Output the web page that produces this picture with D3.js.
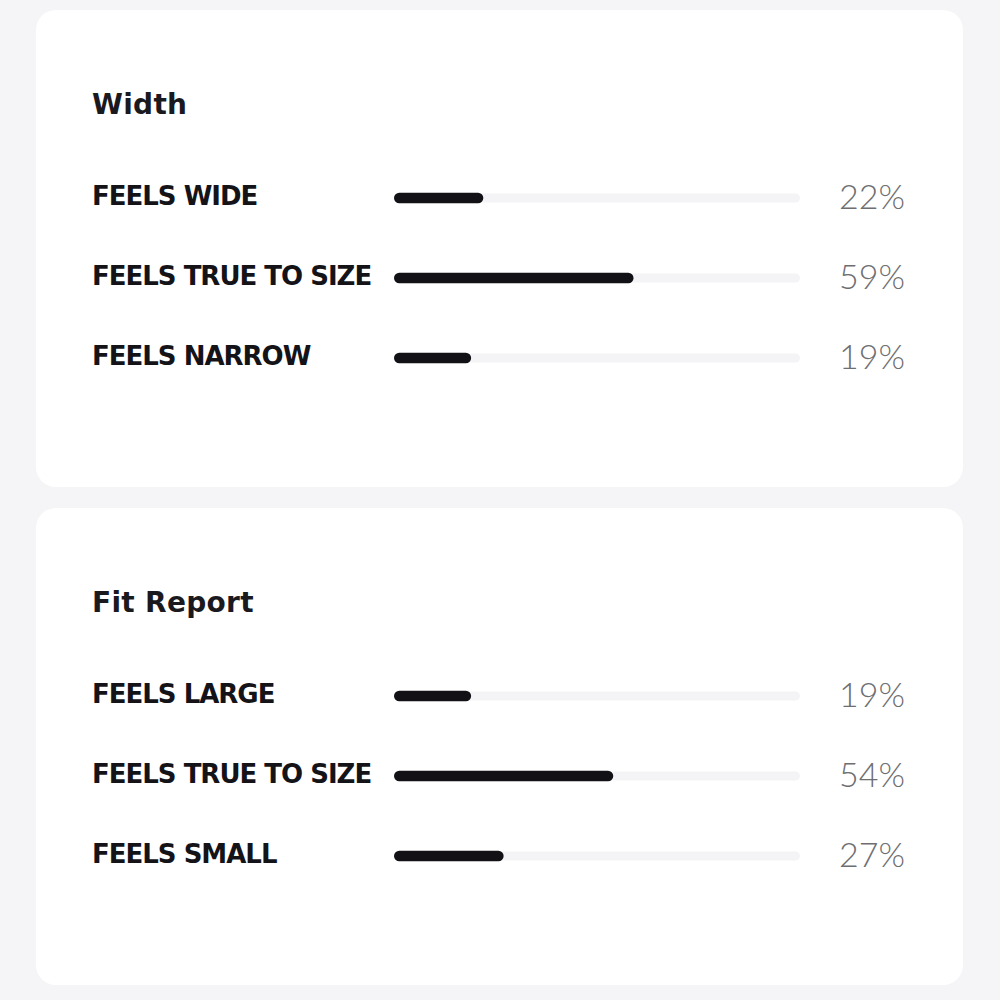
<!DOCTYPE html>
<html>
<head>
<meta charset="utf-8">
<script src="https://cdn.jsdelivr.net/npm/d3@7/dist/d3.min.js"></script>
<style>
  html, body { margin: 0; padding: 0; background: #f5f4f7; }
  svg { display: block; }
</style>
</head>
<body>
<div id="chart"></div>
<script>
// Data
const panelTitles = ["Width", "Fit Report"];
const widthCategories = ["FEELS WIDE", "FEELS TRUE TO SIZE", "FEELS NARROW"];
const widthValues = [22, 59, 19];
const fitCategories = ["FEELS LARGE", "FEELS TRUE TO SIZE", "FEELS SMALL"];
const fitValues = [19, 54, 27];

const panels = [
  { title: panelTitles[0], cats: widthCategories, vals: widthValues },
  { title: panelTitles[1], cats: fitCategories, vals: fitValues }
];

const W = 1000, H = 1000;
const svg = d3.select("#chart").append("svg").attr("width", W).attr("height", H);
svg.append("rect").attr("width", W).attr("height", H).attr("fill", "#f5f4f7");

const cardX = 36, cardW = 927, cardH = 477;
const cardYs = [10, 508];

const x = d3.scaleLinear().domain([0, 100]).range([394, 800]);

panels.forEach((p, i) => {
  const g = svg.append("g").attr("transform", `translate(0,${cardYs[i]})`);
  g.append("rect")
    .attr("x", cardX).attr("y", 0).attr("width", cardW).attr("height", cardH)
    .attr("rx", 20).attr("fill", "#ffffff");

  g.append("text")
    .attr("x", 92).attr("y", 104)
    .attr("font-family", "'DejaVu Sans', sans-serif")
    .attr("font-weight", 700)
    .attr("font-size", 28)
    .attr("letter-spacing", 0.3)
    .attr("fill", "#1a191d")
    .text(p.title);

  const y = d3.scaleBand().domain(p.cats).range([148, 388]);

  const rows = g.selectAll("g.row").data(p.cats.map((c, j) => ({ c, v: p.vals[j] })))
    .enter().append("g").attr("class", "row")
    .attr("transform", d => `translate(0,${y(d.c) + y.bandwidth() / 2})`);

  rows.append("text")
    .attr("x", 92).attr("y", 7)
    .attr("font-family", "'DejaVu Sans', sans-serif")
    .attr("font-weight", 700)
    .attr("font-size", 26)
    .attr("letter-spacing", -1)
    .attr("fill", "#141317")
    .text(d => d.c);

  rows.append("rect")
    .attr("x", x(0)).attr("width", x(100) - x(0))
    .attr("y", -4.5).attr("height", 9).attr("rx", 4.5)
    .attr("fill", "#f4f3f6");

  rows.append("rect")
    .attr("x", x(0)).attr("width", d => x(d.v) - x(0))
    .attr("y", -5.25).attr("height", 10.5).attr("rx", 5.25)
    .attr("fill", "#121115");

  rows.append("text")
    .attr("x", 839).attr("y", 11)
    .attr("font-family", "Lato, sans-serif")
    .attr("font-weight", 300)
    .attr("font-size", 34)
    .attr("fill", "#6e6e71")
    .text(d => d.v + "%");
});
</script>
</body>
</html>
